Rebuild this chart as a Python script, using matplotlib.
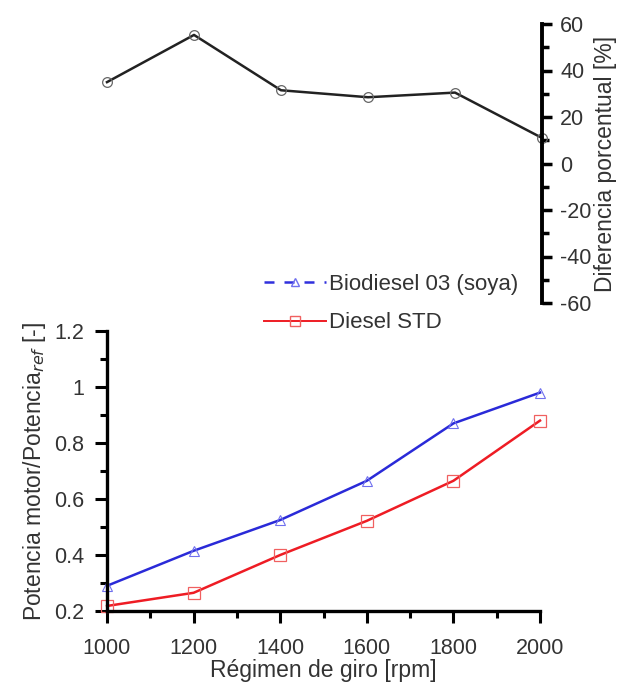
import matplotlib
matplotlib.use("Agg")
import matplotlib.pyplot as plt
from matplotlib.lines import Line2D
from matplotlib.ticker import MultipleLocator

plt.rcParams['font.family'] = ['Liberation Sans', 'DejaVu Sans']
plt.rcParams['axes.unicode_minus'] = False

rpm = [1000, 1200, 1400, 1600, 1800, 2000]
diff_pct = [35, 55.3, 31.5, 28.5, 30.5, 11]
biodiesel = [0.29, 0.415, 0.525, 0.665, 0.87, 0.98]
diesel = [0.218, 0.265, 0.40, 0.522, 0.665, 0.88]

W, H = 622, 683
fig = plt.figure(figsize=(W/100, H/100), dpi=100)

TICK_FS = 15.5
LAB_FS = 16.5

# bottom axes
bx0, bx1, by0, by1 = 107, 540, 331, 611
axb = fig.add_axes([bx0/W, 1 - by1/H, (bx1 - bx0)/W, (by1 - by0)/H])
axb.plot(rpm, biodiesel, color='#2a2ad8', lw=1.8, marker='^', ms=7, mfc='none', mec='#7070ee', mew=0.8, clip_on=False)
axb.plot(rpm, diesel, color='#ee1c24', lw=1.8, marker='s', ms=8, mfc='none', mec='#f06060', mew=0.9, clip_on=False)
axb.set_xlim(1000, 2000)
axb.set_ylim(0.2, 1.2)
axb.set_xticks(rpm)
axb.xaxis.set_minor_locator(MultipleLocator(100))
axb.set_yticks([0.2, 0.4, 0.6, 0.8, 1.0, 1.2])
axb.set_yticklabels(['0.2', '0.4', '0.6', '0.8', '1', '1.2'])
axb.yaxis.set_minor_locator(MultipleLocator(0.1))
for s in ['top', 'right']:
    axb.spines[s].set_visible(False)
for s in ['left', 'bottom']:
    axb.spines[s].set_linewidth(2.4)
axb.tick_params(which='major', direction='out', length=8.5, width=2.2, labelsize=TICK_FS, colors='black', labelcolor='#333333')
axb.tick_params(axis='y', which='major', pad=8)
axb.tick_params(axis='x', which='major', pad=11)
axb.tick_params(which='minor', direction='out', length=5, width=2.2)
axb.set_xlabel('Régimen de giro [rpm]', fontsize=LAB_FS, labelpad=0, color='#333333')
axb.set_ylabel('Potencia motor/Potencia$_{ref}$ [-]', fontsize=LAB_FS, labelpad=4, color='#333333')

# top axes
tx0, tx1, ty0, ty1 = 107, 542, 24, 303
axt = fig.add_axes([tx0/W, 1 - ty1/H, (tx1 - tx0)/W, (ty1 - ty0)/H])
axt.patch.set_alpha(0)
axt.plot(rpm, diff_pct, color='#222222', lw=1.8, marker='o', ms=7, mfc='none', mec='#666666', mew=0.9, clip_on=False)
axt.set_xlim(1000, 2000)
axt.set_ylim(-60, 60)
for s in ['top', 'left', 'bottom']:
    axt.spines[s].set_visible(False)
axt.spines['right'].set_linewidth(2.8)
axt.yaxis.tick_right()
axt.yaxis.set_label_position('right')
axt.set_xticks([])
axt.set_yticks([-60, -40, -20, 0, 20, 40, 60])
axt.yaxis.set_minor_locator(MultipleLocator(10))
axt.tick_params(which='major', direction='out', length=7, width=2.5, labelsize=TICK_FS, pad=6, labelcolor='#333333')
axt.tick_params(which='minor', direction='out', length=5, width=2.5)
axt.set_ylabel('Diferencia porcentual [%]', fontsize=LAB_FS, labelpad=2, color='#333333')

handles = [
    Line2D([], [], color='#3030dd', lw=1.8, ls=(0, (4, 4)), marker='^', ms=6, mfc='none', mec='#7070ee'),
    Line2D([], [], color='#ee1c24', lw=1.4, marker='s', ms=7, mfc='none', mec='#f06060'),
]
fig.legend(handles, ['Biodiesel 03 (soya)', 'Diesel STD'], loc='upper left',
           bbox_to_anchor=(264/W, 1 - 274/H), frameon=False, fontsize=16,
           handlelength=2.8, handletextpad=0.12, labelspacing=0.78, borderpad=0,
           borderaxespad=0, labelcolor='#333333')

fig.savefig('out.png', dpi=100)
